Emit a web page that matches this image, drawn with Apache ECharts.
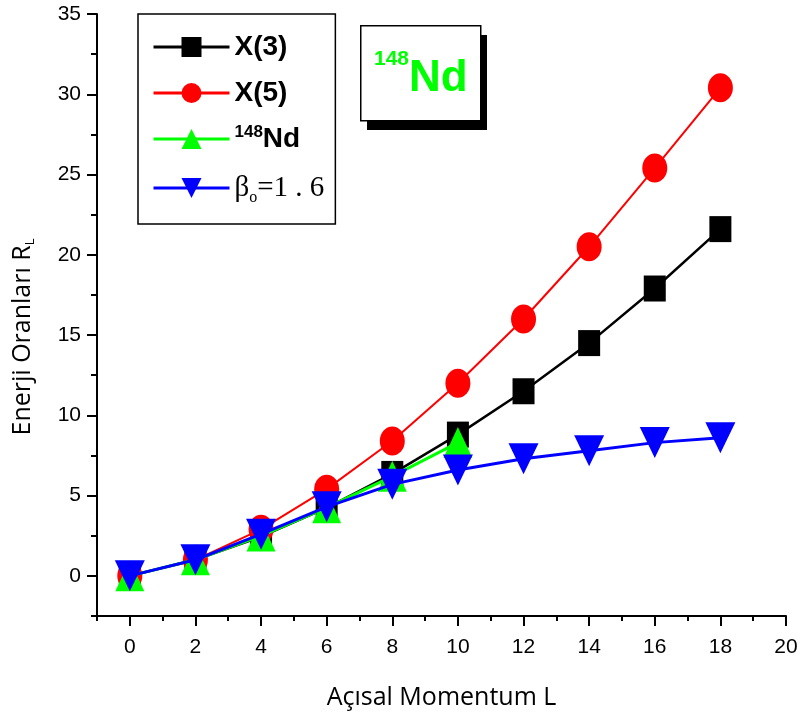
<!DOCTYPE html>
<html>
<head>
<meta charset="utf-8">
<script src="https://cdn.jsdelivr.net/npm/echarts@6/dist/echarts.min.js"></script>
<style>html,body{margin:0;padding:0;background:#fff}#c{width:800px;height:722px}</style>
</head>
<body>
<div id="c"></div>
<script>
const L = [0, 2, 4, 6, 8, 10, 12, 14, 16, 18];
const x3 = [0, 1, 2.44, 4.23, 6.35, 8.8, 11.5, 14.5, 17.9, 21.6];
const x5 = [0, 1, 2.9, 5.4, 8.4, 12.0, 16.0, 20.5, 25.4, 30.4];
const nd148 = [0, 1, 2.49, 4.25, 6.2, 8.3];
const beta16 = [0, 1, 2.6, 4.3, 5.7, 6.6, 7.3, 7.8, 8.3, 8.6];
const xMajor = [0, 2, 4, 6, 8, 10, 12, 14, 16, 18, 20];
const xMinor = [-1, 1, 3, 5, 7, 9, 11, 13, 15, 17, 19];
const yMajor = [0, 5, 10, 15, 20, 25, 30, 35];
const yMinor = [-2.5, 2.5, 7.5, 12.5, 17.5, 22.5, 27.5, 32.5];

const pair = (xs, ys) => ys.map((v, i) => [xs[i], v]);
const tri = 'path://M0,10L10,10L5,0Z';
const triDown = 'path://M0,0L10,0L5,10Z';
const font = '"Liberation Sans", Arial, sans-serif';
const tfont = '"Open Sans", "Noto Sans", sans-serif';
const serif = '"Liberation Serif", "Times New Roman", serif';

const chart = echarts.init(document.getElementById('c'));
const baseX = {type: 'value', min: -1, max: 20};
const baseY = {type: 'value', min: -2.5, max: 35};
chart.setOption({
  animation: false,
  backgroundColor: '#fff',
  grid: {left: 97, right: 14, top: 14, bottom: 106, containLabel: false, outerBoundsMode: 'none'},
  xAxis: [
    Object.assign({}, baseX, {
      position: 'bottom',
      axisLine: {show: true, onZero: false, lineStyle: {color: '#000', width: 2}},
      axisTick: {show: true, length: 10, customValues: xMajor, lineStyle: {color: '#000', width: 2}},
      axisLabel: {customValues: xMajor, color: '#000', fontFamily: font, fontSize: 21, margin: 21},
      splitLine: {show: false},
      name: 'Açısal Momentum L', nameLocation: 'middle', nameGap: 69,
      nameTextStyle: {fontFamily: tfont, fontSize: 25, color: '#000'}
    }),
    Object.assign({}, baseX, {
      position: 'bottom',
      axisLine: {show: false, onZero: false},
      axisTick: {show: true, length: 5, customValues: xMinor, lineStyle: {color: '#000', width: 2}},
      axisLabel: {show: false},
      splitLine: {show: false}
    })
  ],
  yAxis: [
    Object.assign({}, baseY, {
      position: 'left',
      axisLine: {show: true, onZero: false, lineStyle: {color: '#000', width: 2}},
      axisTick: {show: true, length: 10, customValues: yMajor, lineStyle: {color: '#000', width: 2}},
      axisLabel: {customValues: yMajor, color: '#000', fontFamily: font, fontSize: 21, margin: 16},
      splitLine: {show: false},
      name: 'Enerji Oranları R{sub|L}', nameLocation: 'middle', nameGap: 60,
      nameTextStyle: {fontFamily: tfont, fontSize: 25, color: '#000', padding: [0, 44, 0, 0],
        rich: {sub: {fontFamily: tfont, fontSize: 13, verticalAlign: 'bottom', padding: [16, 0, 0, 0]}}}
    }),
    Object.assign({}, baseY, {
      position: 'left',
      axisLine: {show: false, onZero: false},
      axisTick: {show: true, length: 6, customValues: yMinor, lineStyle: {color: '#000', width: 2}},
      axisLabel: {show: false},
      splitLine: {show: false}
    })
  ],
  legend: {
    orient: 'vertical', left: 138, top: 14,
    padding: [18, 11, 18, 14], itemGap: 16,
    itemWidth: 76, itemHeight: 25,
    lineStyle: {width: 3},
    borderColor: '#000', borderWidth: 1.5, backgroundColor: '#fff',
    data: ['X(3)', 'X(5)', 'Nd148', 'beta'],
    formatter: function (n) {
      if (n === 'Nd148') return '{sup|148}{b|Nd}';
      if (n === 'beta') return '{g|β}{o|o}{t|=1 . 6}';
      return '{b|' + n + '}';
    },
    textStyle: {
      color: '#000', lineHeight: 30,
      rich: {
        b: {fontFamily: font, fontWeight: 'bold', fontSize: 28, lineHeight: 30},
        sup: {fontFamily: font, fontWeight: 'bold', fontSize: 17, verticalAlign: 'top', lineHeight: 30, padding: [0, 0, 12, 0]},
        g: {fontFamily: serif, fontSize: 29, lineHeight: 30},
        o: {fontFamily: serif, fontSize: 16, lineHeight: 30, padding: [20, 0, 0, 0]},
        t: {fontFamily: serif, fontSize: 29, lineHeight: 30}
      }
    }
  },
  graphic: [
    {type: 'rect', left: 367, top: 35, shape: {width: 120, height: 95}, style: {fill: '#000'}, z: 10},
    {type: 'rect', left: 360, top: 25, shape: {width: 120, height: 95}, style: {fill: '#fff', stroke: '#000', lineWidth: 1.5}, z: 11},
    {type: 'text', left: 374, top: 49, z: 12, style: {
      text: '148', fontFamily: font, fontWeight: 'bold', fontSize: 21, fill: '#00ff00'}},
    {type: 'text', left: 409, top: 57, z: 12, style: {
      text: 'Nd', fontFamily: font, fontWeight: 'bold', fontSize: 44, fill: '#00ff00'}}
  ],
  series: [
    {name: 'X(3)', type: 'line', data: pair(L, x3), symbol: 'rect', symbolSize: [22, 26],
      lineStyle: {color: '#000', width: 2.5}, itemStyle: {color: '#000'}, z: 2},
    {name: 'X(5)', type: 'line', data: pair(L, x5), symbol: 'circle', symbolSize: [25, 29],
      lineStyle: {color: '#ff0000', width: 2}, itemStyle: {color: '#ff0000'}, z: 3},
    {name: 'Nd148', type: 'line', data: pair(L, nd148), symbol: tri, symbolSize: [29, 31],
      lineStyle: {color: '#00ff00', width: 3}, itemStyle: {color: '#00ff00'}, z: 4},
    {name: 'beta', type: 'line', data: pair(L, beta16), symbol: triDown, symbolSize: [30, 31],
      lineStyle: {color: '#0000ff', width: 3}, itemStyle: {color: '#0000ff'}, z: 5}
  ]
});
</script>
</body>
</html>
